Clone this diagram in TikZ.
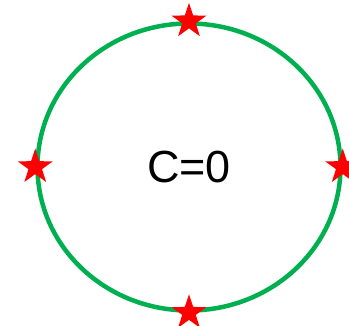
\documentclass[tikz,border=0pt]{standalone}
\usepackage{fontspec}
\setmainfont{Liberation Sans}
\usetikzlibrary{shapes.geometric}
\definecolor{ringgreen}{RGB}{0,176,80}
\definecolor{starred}{RGB}{255,0,0}

\begin{document}
\begin{tikzpicture}[x=1pt, y=1pt,
  ring/.style={draw=ringgreen, line width=4.5pt, ellipse, minimum width=303pt, minimum height=287pt, inner sep=0pt, font=\fontsize{45}{54}\selectfont},
  mark star/.style={star, star points=5, star point ratio=2.6, minimum size=37pt, inner sep=0pt, fill=starred, draw=none}]
\useasboundingbox (0,0) rectangle (349,326);
\node[ring] (ring) at (189,159) {C=0};
\node[mark star] (top)    at (ring.north) {};
\node[mark star] (left)   at (ring.west)  {};
\node[mark star] (right)  at (ring.east)  {};
\node[mark star] (bottom) at (ring.south) {};
\end{tikzpicture}
\end{document}
